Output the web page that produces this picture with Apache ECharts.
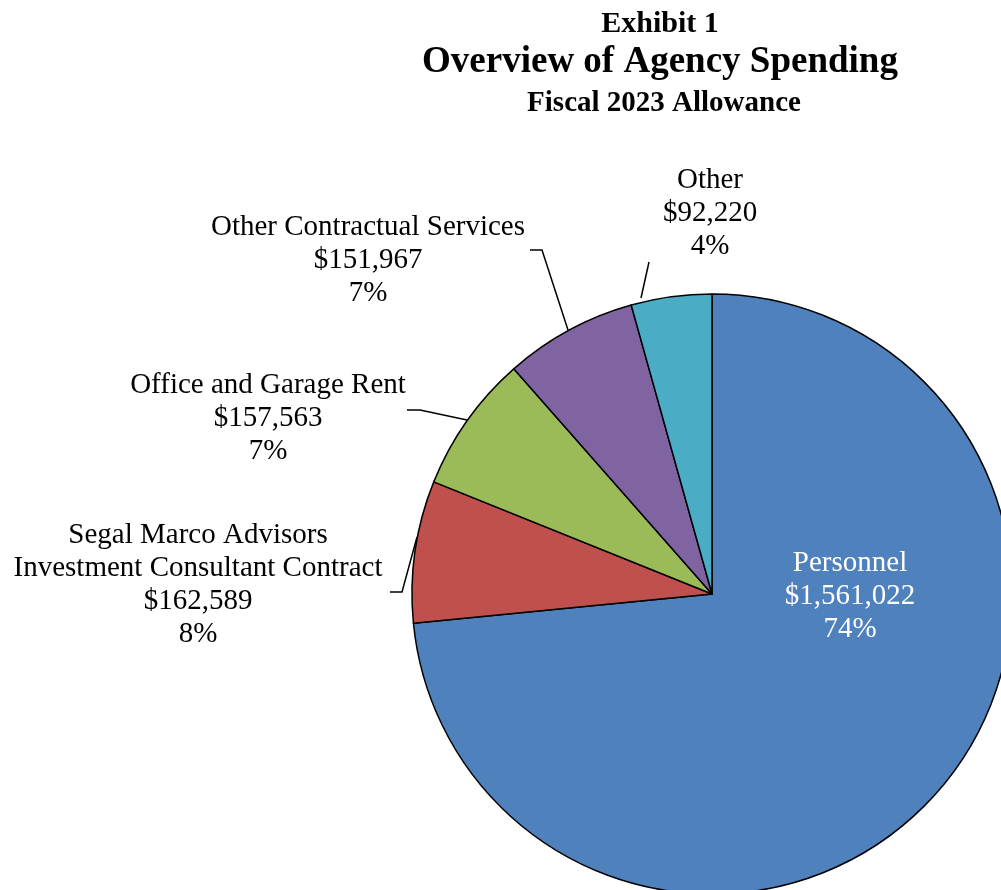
<!DOCTYPE html>
<html><head><meta charset="utf-8">
<script src="https://cdn.jsdelivr.net/npm/echarts@6/dist/echarts.min.js"></script>
<style>html,body{margin:0;padding:0;background:#fff}#c{width:1001px;height:890px}</style>
</head><body><div id="c"></div>
<script>
const categories = ['Personnel', 'Segal Marco Advisors\nInvestment Consultant Contract', 'Office and Garage Rent', 'Other Contractual Services', 'Other'];
const values = [1561022, 162589, 157563, 151967, 92220];
const percentLabels = ['74%', '8%', '7%', '7%', '4%'];
const colors = ['#4F81BD', '#C0504D', '#9BBB59', '#8064A2', '#4BACC6'];

// label placement (layout only)
const labelPos = [
  {x: 850, y: 596, line: null},
  {x: 198, y: 585, line: [[417,537],[402,592],[390,592]]},
  {x: 268, y: 418, line: [[467,420],[420,410],[407,410]]},
  {x: 368, y: 260, line: [[568,330],[542,250],[530,250]]},
  {x: 710, y: 213, line: [[641,298],[649,262],[649,262]]}
];

const chart = echarts.init(document.getElementById('c'), null, {renderer: 'canvas'});
const FONT = '"Liberation Serif", "Times New Roman", serif';
chart.setOption({
  animation: false,
  title: [
    {text: 'Exhibit 1', left: 655, top: 4, textAlign: 'center', textStyle: {fontFamily: FONT, fontWeight: 'bold', fontSize: 30, color: '#000'}},
    {text: 'Overview of Agency Spending', left: 655, top: 39, textAlign: 'center', textStyle: {fontFamily: FONT, fontWeight: 'bold', fontSize: 37, color: '#000'}},
    {text: 'Fiscal 2023 Allowance', left: 659, top: 84, textAlign: 'center', textStyle: {fontFamily: FONT, fontWeight: 'bold', fontSize: 29, color: '#000'}}
  ],
  series: [{
    type: 'pie',
    center: [712, 594],
    radius: 300,
    startAngle: 90,
    clockwise: true,
    avoidLabelOverlap: false,
    itemStyle: {borderColor: '#000', borderWidth: 1.5},
    label: {
      show: true,
      fontFamily: FONT,
      fontSize: 29,
      lineHeight: 33,
      color: '#000',
      align: 'center',
      formatter: p => p.name + '\n$' + p.value.toLocaleString('en-US') + '\n' + percentLabels[p.dataIndex]
    },
    labelLine: {show: true, lineStyle: {color: '#000', width: 1.5}},
    labelLayout: p => {
      const L = labelPos[p.dataIndex];
      const r = {x: L.x, y: L.y, align: 'center', verticalAlign: 'middle'};
      if (L.line) r.labelLinePoints = L.line;
      return r;
    },
    data: categories.map((c, i) => ({
      name: c, value: values[i],
      itemStyle: {color: colors[i]},
      label: i === 0 ? {color: '#fff'} : undefined,
      labelLine: i === 0 ? {show: false} : undefined
    }))
  }]
});
</script></body></html>
